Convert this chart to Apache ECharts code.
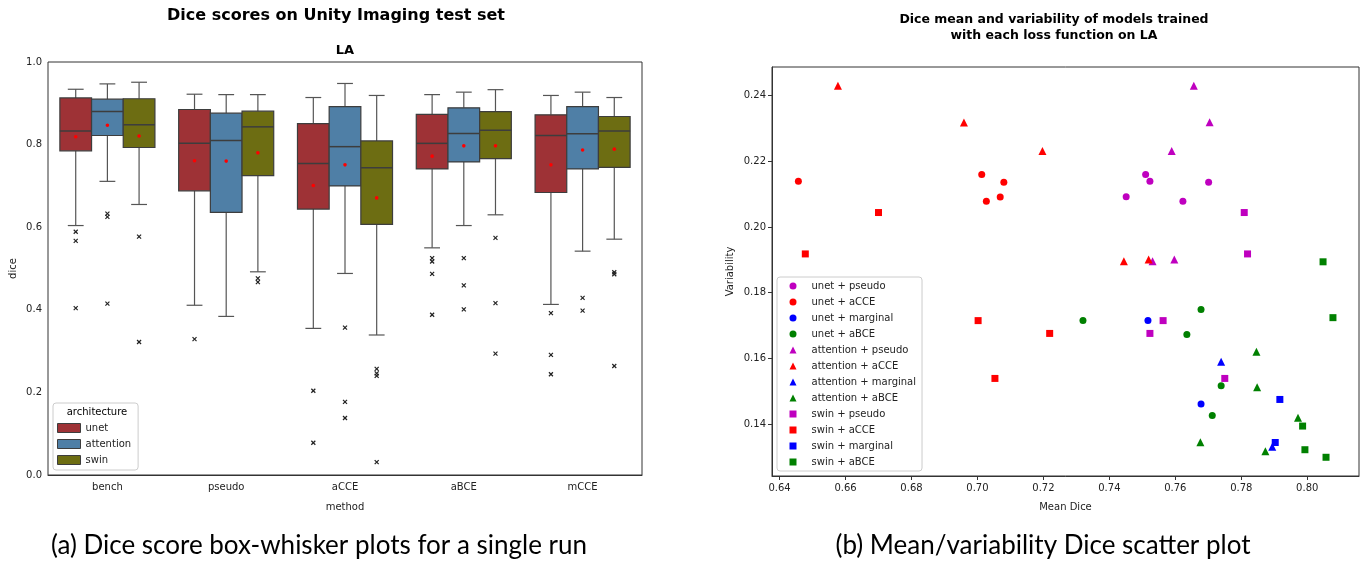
<!DOCTYPE html>
<html lang="en">
<head>
<meta charset="UTF-8">
<title>Dice scores</title>
<script src="https://cdn.jsdelivr.net/npm/echarts@6/dist/echarts.min.js"></script>
<style>
  body { margin: 0; background: #fff; }
</style>
</head>
<body>
<div id="main" style="width: 1370px; height: 562px;"></div>
<script type="text/javascript">
// ---- left panel: box plots ----
const methods = ['bench', 'pseudo', 'aCCE', 'aBCE', 'mCCE'];
const architectures = ['unet', 'attention', 'swin'];

// [low whisker, q1, median, q3, high whisker] per method
const unetBox = [
  [0.604, 0.785, 0.833, 0.913, 0.934],
  [0.411, 0.688, 0.803, 0.885, 0.922],
  [0.355, 0.644, 0.754, 0.851, 0.914],
  [0.550, 0.741, 0.803, 0.873, 0.921],
  [0.413, 0.684, 0.822, 0.872, 0.919]
];
const attentionBox = [
  [0.711, 0.822, 0.880, 0.910, 0.947],
  [0.384, 0.636, 0.810, 0.876, 0.921],
  [0.488, 0.700, 0.795, 0.892, 0.948],
  [0.604, 0.758, 0.827, 0.889, 0.927],
  [0.542, 0.741, 0.826, 0.892, 0.927]
];
const swinBox = [
  [0.655, 0.793, 0.848, 0.911, 0.951],
  [0.492, 0.725, 0.843, 0.881, 0.921],
  [0.339, 0.607, 0.744, 0.809, 0.919],
  [0.630, 0.766, 0.835, 0.880, 0.933],
  [0.571, 0.745, 0.833, 0.868, 0.914]
];

const unetMean = [0.819, 0.761, 0.701, 0.772, 0.751];
const attentionMean = [0.847, 0.760, 0.751, 0.797, 0.787];
const swinMean = [0.821, 0.780, 0.671, 0.797, 0.789];

// [method index, value]
const unetOutliers = [[0, 0.589], [0, 0.567], [0, 0.404], [1, 0.329], [2, 0.204], [2, 0.078],
  [3, 0.525], [3, 0.517], [3, 0.487], [3, 0.388], [4, 0.392], [4, 0.291], [4, 0.244]];
const attentionOutliers = [[0, 0.633], [0, 0.625], [0, 0.415], [2, 0.357], [2, 0.177], [2, 0.138],
  [3, 0.525], [3, 0.459], [3, 0.401], [4, 0.429], [4, 0.398]];
const swinOutliers = [[0, 0.577], [0, 0.322], [1, 0.476], [1, 0.467], [2, 0.257], [2, 0.246],
  [2, 0.240], [2, 0.031], [3, 0.574], [3, 0.416], [3, 0.294], [4, 0.491], [4, 0.486], [4, 0.264]];

const diceTicks = [0, 0.2, 0.4, 0.6, 0.8, 1.0];

// ---- right panel: mean / variability scatter ----
// [mean dice, variability]
const unetPseudo = [[0.7510, 0.2160], [0.7523, 0.2139], [0.7701, 0.2136], [0.7451, 0.2092], [0.7623, 0.2078]];
const unetACCE = [[0.6457, 0.2139], [0.7013, 0.2160], [0.7027, 0.2078], [0.7069, 0.2091], [0.7080, 0.2136]];
const unetMarginal = [[0.7517, 0.1715], [0.7678, 0.1461]];
const unetABCE = [[0.7320, 0.1715], [0.7678, 0.1749], [0.7635, 0.1673], [0.7739, 0.1517], [0.7712, 0.1426]];
const attentionPseudo = [[0.7656, 0.2430], [0.7704, 0.2319], [0.7589, 0.2231], [0.7531, 0.1896], [0.7597, 0.1901]];
const attentionACCE = [[0.6577, 0.2430], [0.6959, 0.2318], [0.7197, 0.2231], [0.7444, 0.1896], [0.7519, 0.1901]];
const attentionMarginal = [[0.7739, 0.1590], [0.7894, 0.1331]];
const attentionABCE = [[0.7846, 0.1620], [0.7848, 0.1512], [0.7972, 0.1419], [0.7676, 0.1345], [0.7873, 0.1317]];
const swinPseudo = [[0.7809, 0.2044], [0.7819, 0.1918], [0.7563, 0.1715], [0.7523, 0.1676], [0.7750, 0.1539]];
const swinACCE = [[0.6700, 0.2044], [0.6478, 0.1918], [0.7002, 0.1715], [0.7053, 0.1539], [0.7219, 0.1676]];
const swinMarginal = [[0.7917, 0.1475], [0.7903, 0.1344]];
const swinABCE = [[0.8048, 0.1894], [0.8078, 0.1724], [0.7986, 0.1394], [0.7993, 0.1322], [0.8057, 0.1299]];

const meanTicks = [0.64, 0.66, 0.68, 0.70, 0.72, 0.74, 0.76, 0.78, 0.80];
const varTicks = [0.14, 0.16, 0.18, 0.20, 0.22, 0.24];

const FONT = '"DejaVu Sans", sans-serif';
const boxColors = ['#9e3236', '#4f7fa6', '#6d6d12'];
const edge = '#3d3d3d';

let myChart = echarts.init(document.getElementById('main'));

// box, whiskers and median for one architecture, shifted inside the category band
function boxRender(slot, color) {
  return function (params, api) {
    const band = api.size([1, 0])[0];
    const w = band * 0.8 / 3;
    const i = api.value(0);
    const cx = api.coord([i, 0])[0] + (slot - 1) * w;
    const y = (v) => api.coord([i, v])[1];
    const yLow = y(api.value(1)), yQ1 = y(api.value(2)), yMed = y(api.value(3));
    const yQ3 = y(api.value(4)), yHigh = y(api.value(5));
    const wl = { stroke: '#555', lineWidth: 1.2 };
    return {
      type: 'group',
      children: [
        { type: 'line', shape: { x1: cx, y1: yQ3, x2: cx, y2: yHigh }, style: wl },
        { type: 'line', shape: { x1: cx, y1: yQ1, x2: cx, y2: yLow }, style: wl },
        { type: 'line', shape: { x1: cx - w / 4, y1: yHigh, x2: cx + w / 4, y2: yHigh }, style: wl },
        { type: 'line', shape: { x1: cx - w / 4, y1: yLow, x2: cx + w / 4, y2: yLow }, style: wl },
        { type: 'rect', shape: { x: cx - w / 2, y: yQ3, width: w, height: yQ1 - yQ3 },
          style: { fill: color, stroke: edge, lineWidth: 1.2 } },
        { type: 'line', shape: { x1: cx - w / 2, y1: yMed, x2: cx + w / 2, y2: yMed },
          style: { stroke: edge, lineWidth: 1.5 } }
      ]
    };
  };
}

function pointRender(slot, kind) {
  return function (params, api) {
    const band = api.size([1, 0])[0];
    const w = band * 0.8 / 3;
    const p = api.coord([api.value(0), api.value(1)]);
    const x = p[0] + (slot - 1) * w;
    const y = p[1];
    if (kind === 'mean') {
      return { type: 'circle', shape: { cx: x, cy: y, r: 1.8 }, style: { fill: '#ff0000' } };
    }
    const s = 2;
    const st = { stroke: '#222', lineWidth: 1.2 };
    return {
      type: 'group',
      children: [
        { type: 'line', shape: { x1: x - s, y1: y - s, x2: x + s, y2: y + s }, style: st },
        { type: 'line', shape: { x1: x - s, y1: y + s, x2: x + s, y2: y - s }, style: st }
      ]
    };
  };
}

const boxSets = [unetBox, attentionBox, swinBox];
const meanSets = [unetMean, attentionMean, swinMean];
const outlierSets = [unetOutliers, attentionOutliers, swinOutliers];

const series = [];
architectures.forEach((name, k) => {
  series.push({
    name: name,
    type: 'custom',
    xAxisIndex: 0, yAxisIndex: 0,
    itemStyle: { color: boxColors[k] },
    renderItem: boxRender(k, boxColors[k]),
    encode: { x: 0, y: [1, 2, 3, 4, 5] },
    data: boxSets[k].map((b, i) => [i].concat(b))
  });
});
architectures.forEach((name, k) => {
  series.push({
    name: name + ' outliers',
    type: 'custom',
    xAxisIndex: 0, yAxisIndex: 0,
    renderItem: pointRender(k, 'outlier'),
    encode: { x: 0, y: 1 },
    data: outlierSets[k]
  });
  series.push({
    name: name + ' mean',
    type: 'custom',
    xAxisIndex: 0, yAxisIndex: 0,
    z: 5,
    renderItem: pointRender(k, 'mean'),
    encode: { x: 0, y: 1 },
    data: meanSets[k].map((m, i) => [i, m])
  });
});

const scatterSets = [
  ['unet + pseudo', unetPseudo, 'circle', '#bf00bf'],
  ['unet + aCCE', unetACCE, 'circle', '#ff0000'],
  ['unet + marginal', unetMarginal, 'circle', '#0000ff'],
  ['unet + aBCE', unetABCE, 'circle', '#008000'],
  ['attention + pseudo', attentionPseudo, 'triangle', '#bf00bf'],
  ['attention + aCCE', attentionACCE, 'triangle', '#ff0000'],
  ['attention + marginal', attentionMarginal, 'triangle', '#0000ff'],
  ['attention + aBCE', attentionABCE, 'triangle', '#008000'],
  ['swin + pseudo', swinPseudo, 'rect', '#bf00bf'],
  ['swin + aCCE', swinACCE, 'rect', '#ff0000'],
  ['swin + marginal', swinMarginal, 'rect', '#0000ff'],
  ['swin + aBCE', swinABCE, 'rect', '#008000']
];
scatterSets.forEach(([name, data, symbol, color]) => {
  series.push({
    name: name,
    type: 'scatter',
    xAxisIndex: 1, yAxisIndex: 1,
    symbol: symbol,
    symbolSize: symbol === 'triangle' ? 8 : 7,
    itemStyle: { color: color, opacity: 1 },
    data: data
  });
});

const axisCommon = {
  axisLine: { lineStyle: { color: '#333', width: 1 } },
  axisTick: { length: 4, lineStyle: { color: '#333' } },
  axisLabel: { color: '#222', fontFamily: FONT, fontSize: 10 },
  splitLine: { show: false },
  nameTextStyle: { color: '#222', fontFamily: FONT, fontSize: 10 }
};

const txt = (x, y, text, font) => ({
  type: 'text', x: x, y: y, z: 100,
  style: { text: text, font: font, fill: '#000', align: 'center', verticalAlign: 'middle' }
});

let options = {
  animation: false,
  grid: [
    { left: 48, top: 62, width: 594, height: 413, show: true, borderColor: '#333', borderWidth: 1 },
    { left: 772, top: 67, width: 587, height: 409, show: true, borderColor: '#333', borderWidth: 1 }
  ],
  xAxis: [
    Object.assign({}, axisCommon, {
      type: 'category', gridIndex: 0, data: methods,
      name: 'method', nameLocation: 'middle', nameGap: 27,
      axisTick: { alignWithLabel: true, length: 4, lineStyle: { color: '#333' } },
      axisLabel: { color: '#222', fontFamily: FONT, fontSize: 10, margin: 7 }
    }),
    Object.assign({}, axisCommon, {
      type: 'value', gridIndex: 1, min: 0.6377, max: 0.8157,
      name: 'Mean Dice', nameLocation: 'middle', nameGap: 26,
      axisTick: { length: 4, lineStyle: { color: '#333' }, customValues: meanTicks },
      axisLabel: { color: '#222', fontFamily: FONT, fontSize: 10, margin: 7,
        customValues: meanTicks, formatter: (v) => v.toFixed(2) }
    })
  ],
  yAxis: [
    Object.assign({}, axisCommon, {
      type: 'value', gridIndex: 0, min: 0, max: 1, interval: 0.2,
      name: 'dice', nameLocation: 'middle', nameGap: 30,
      axisTick: { length: 4, lineStyle: { color: '#333' }, customValues: diceTicks },
      axisLabel: { color: '#222', fontFamily: FONT, fontSize: 10, margin: 6,
        customValues: diceTicks, formatter: (v) => v.toFixed(1) }
    }),
    Object.assign({}, axisCommon, {
      type: 'value', gridIndex: 1, min: 0.1242, max: 0.2487,
      name: 'Variability', nameLocation: 'middle', nameGap: 37,
      axisTick: { length: 4, lineStyle: { color: '#333' }, customValues: varTicks },
      axisLabel: { color: '#222', fontFamily: FONT, fontSize: 10, margin: 6,
        customValues: varTicks, formatter: (v) => v.toFixed(2) }
    })
  ],
  legend: [
    {
      data: architectures, orient: 'vertical', left: 53, top: 403,
      padding: [19, 7, 4, 4], itemWidth: 23, itemHeight: 9, itemGap: 4,
      icon: 'rect',
      itemStyle: { borderColor: edge, borderWidth: 1 },
      textStyle: { fontFamily: FONT, fontSize: 10, color: '#222', lineHeight: 12 },
      backgroundColor: 'rgba(255,255,255,0.85)', borderColor: '#ccc', borderWidth: 1, borderRadius: 3
    },
    {
      data: scatterSets.map((s) => ({ name: s[0], icon: s[2] })),
      orient: 'vertical', left: 777, top: 277,
      padding: [3, 6, 3, 12.5], itemWidth: 7, itemHeight: 7, itemGap: 4,
      textStyle: { fontFamily: FONT, fontSize: 10, color: '#222', lineHeight: 12, padding: [0, 0, 0, 10] },
      backgroundColor: 'rgba(255,255,255,0.85)', borderColor: '#ccc', borderWidth: 1, borderRadius: 3
    }
  ],
  graphic: [
    txt(336, 16, 'Dice scores on Unity Imaging test set', 'bold 16px ' + FONT),
    txt(345, 51, 'LA', 'bold 13px ' + FONT),
    txt(97, 412, 'architecture', '10px ' + FONT),
    txt(1054, 20, 'Dice mean and variability of models trained', 'bold 12.5px ' + FONT),
    txt(1054, 36, 'with each loss function on LA', 'bold 12.5px ' + FONT),
    txt(319, 546, '(a) Dice score box-whisker plots for a single run', '26px Lato, sans-serif'),
    txt(1043, 546, '(b) Mean/variability Dice scatter plot', '26px Lato, sans-serif')
  ],
  series: series
};

myChart.setOption(options);
</script>
</body>
</html>
